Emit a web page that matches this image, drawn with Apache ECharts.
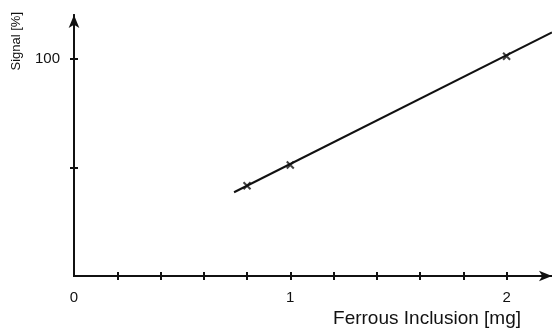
<!DOCTYPE html>
<html>
<head>
<meta charset="utf-8">
<script src="https://cdn.jsdelivr.net/npm/echarts@6/dist/echarts.min.js"></script>
<style>
  html, body { margin: 0; padding: 0; background: #fff; }
  #chart { width: 552px; height: 329px; }
</style>
</head>
<body>
<div id="chart"></div>
<script>
// measured points (x marks)
const massMg = [0.8, 1.0, 2.0];
const signalPct = [41.5, 51, 101];

// fitted line, drawn from its two ends
const fitX = [0.74, 2.21];
const fitY = [38.5, 112];

const xTicks = [0.2, 0.4, 0.6, 0.8, 1.0, 1.2, 1.4, 1.6, 1.8, 2.0];
const xLabels = [0, 1, 2];
const yTicks = [50, 100];
const yLabels = [100];

const ink = '#111';
const font = 'Liberation Sans, Arial, sans-serif';

const chart = echarts.init(document.getElementById('chart'));

const crossPath = 'path://M0,0L10,10M10,0L0,10';

// second copy of each axis only draws the inner half of the ticks
function innerTicks(base, ticks) {
  return Object.assign({}, base, {
    axisLine: { show: true, onZero: false, lineStyle: { color: ink, width: 2 } },
    axisTick: { show: true, inside: true, customValues: ticks, length: 4, lineStyle: { color: ink, width: 2 } },
    axisLabel: { show: false },
    splitLine: { show: false }
  });
}

chart.setOption({
  animation: false,
  grid: { left: 74, right: 0, top: 15, bottom: 53, containLabel: false },
  xAxis: [
    {
      type: 'value', min: 0, max: 2.21, position: 'bottom',
      axisLine: { show: true, onZero: false, symbol: ['none', 'arrow'], symbolSize: [8, 13], lineStyle: { color: ink, width: 2 } },
      axisTick: { show: true, customValues: xTicks, length: 4, lineStyle: { color: ink, width: 2 } },
      axisLabel: { customValues: xLabels, color: ink, fontFamily: font, fontSize: 15, margin: 14 },
      splitLine: { show: false }
    },
    innerTicks({ type: 'value', min: 0, max: 2.21, position: 'bottom' }, xTicks)
  ],
  yAxis: [
    {
      type: 'value', min: 0, max: 120, position: 'left',
      axisLine: { show: true, onZero: false, symbol: ['none', 'arrow'], symbolSize: [8, 13], lineStyle: { color: ink, width: 2 } },
      axisTick: { show: true, customValues: yTicks, length: 4, lineStyle: { color: ink, width: 2 } },
      axisLabel: { customValues: yLabels, color: ink, fontFamily: font, fontSize: 15, margin: 14 },
      splitLine: { show: false }
    },
    innerTicks({ type: 'value', min: 0, max: 120, position: 'left', offset: 0 }, yTicks)
  ],
  graphic: [
    {
      type: 'text', right: 31, top: 309,
      style: { text: 'Ferrous Inclusion [mg]', fill: ink, font: '19px ' + font }
    },
    {
      type: 'text', left: 10, top: 12, rotation: Math.PI / 2,
      style: { text: 'Signal [%]', fill: ink, font: '13px ' + font }
    }
  ],
  series: [
    {
      type: 'line',
      data: fitX.map((x, i) => [x, fitY[i]]),
      showSymbol: false,
      lineStyle: { color: ink, width: 2 }
    },
    {
      type: 'scatter',
      data: massMg.map((x, i) => [x, signalPct[i]]),
      symbol: crossPath,
      symbolSize: 7,
      itemStyle: { color: 'none', borderColor: ink, borderWidth: 2 }
    }
  ]
});
</script>
</body>
</html>
